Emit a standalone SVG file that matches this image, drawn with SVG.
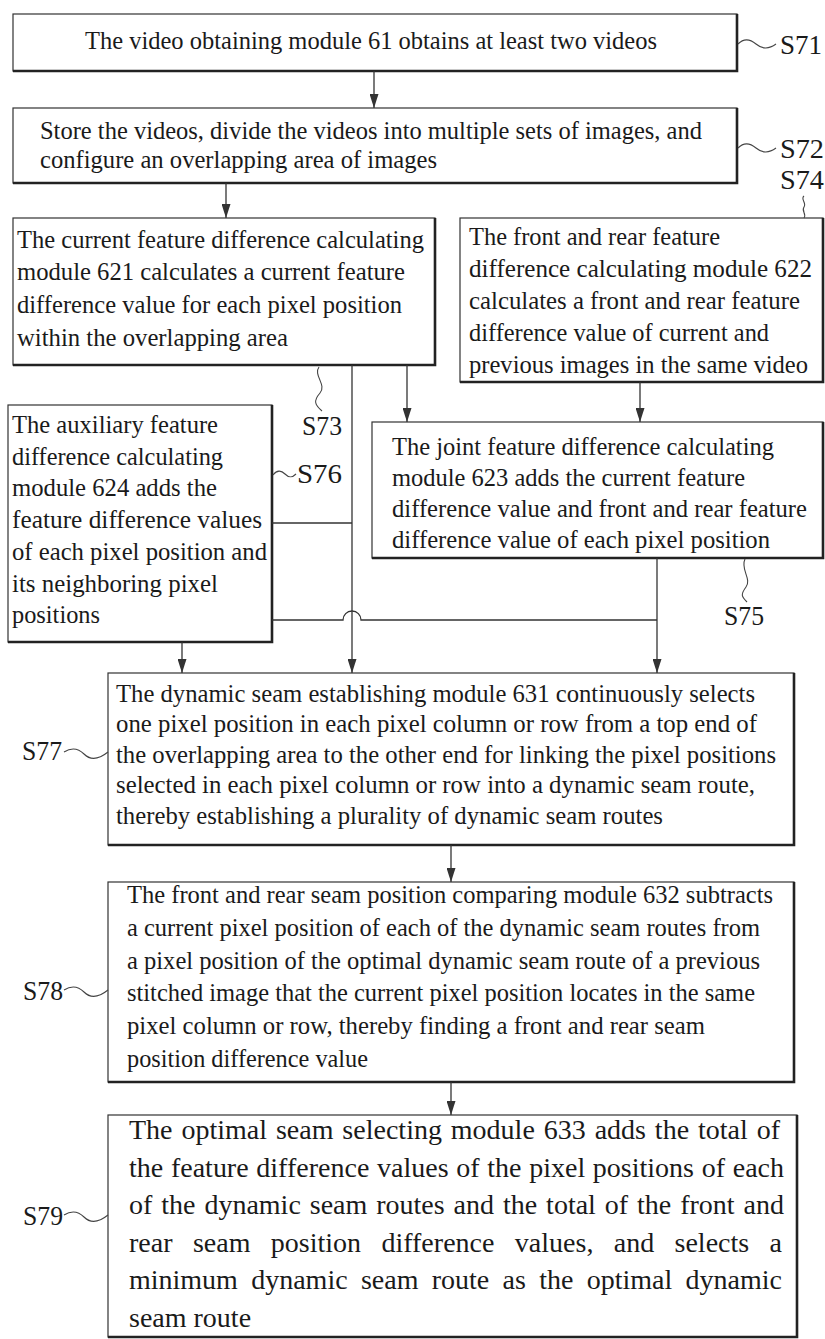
<svg xmlns="http://www.w3.org/2000/svg" width="825" height="1339" viewBox="0 0 825 1339">
<style>
.box{fill:#fff;stroke:#333;stroke-width:1.2}
.edge{fill:none;stroke:#222;stroke-width:2.6}
.t{font-family:"Liberation Serif","Times New Roman",serif;font-size:25px;fill:#1a1a1a}
.big{font-size:28px}
.lbl{font-family:"Liberation Serif","Times New Roman",serif;font-size:27px;fill:#1a1a1a}
.conn{fill:none;stroke:#333;stroke-width:1.3}
.lead{fill:none;stroke:#444;stroke-width:1.1}
</style>
<defs>
<marker id="ah" markerUnits="userSpaceOnUse" viewBox="0 0 14 9" markerWidth="14" markerHeight="9" refX="14" refY="4.5" orient="auto">
<path d="M0,0 L14,4.5 L0,9 z" fill="#333"/>
</marker>
</defs>
<rect width="825" height="1339" fill="#fff"/>

<g id="n-s71">
<rect class="box" x="13" y="14" width="724" height="57"/>
<polyline class="edge" points="13,71 737,71 737,14"/>
<text class="t" x="85" y="49" textLength="572" lengthAdjust="spacingAndGlyphs">The video obtaining module 61 obtains at least two videos</text>
</g>

<g id="n-s72">
<rect class="box" x="13" y="108" width="724" height="75"/>
<polyline class="edge" points="13,183 737,183 737,108"/>
<text class="t" x="40" y="139" textLength="662" lengthAdjust="spacingAndGlyphs">Store the videos, divide the videos into multiple sets of images, and</text>
<text class="t" x="40" y="168" textLength="397" lengthAdjust="spacingAndGlyphs">configure an overlapping area of images</text>
</g>

<g id="n-s73">
<rect class="box" x="13" y="218" width="422" height="147"/>
<polyline class="edge" points="13,365 435,365 435,218"/>
<text class="t" x="17" y="248" textLength="407" lengthAdjust="spacingAndGlyphs">The current feature difference calculating</text>
<text class="t" x="17" y="280" textLength="388" lengthAdjust="spacingAndGlyphs">module 621 calculates a current feature</text>
<text class="t" x="17" y="313" textLength="385" lengthAdjust="spacingAndGlyphs">difference value for each pixel position</text>
<text class="t" x="17" y="346" textLength="271" lengthAdjust="spacingAndGlyphs">within the overlapping area</text>
</g>

<g id="n-s74">
<rect class="box" x="460" y="218" width="363" height="164"/>
<polyline class="edge" points="460,382 823,382 823,218"/>
<text class="t" x="469" y="245" textLength="251" lengthAdjust="spacingAndGlyphs">The front and rear feature</text>
<text class="t" x="469" y="277" textLength="343" lengthAdjust="spacingAndGlyphs">difference calculating module 622</text>
<text class="t" x="469" y="309" textLength="331" lengthAdjust="spacingAndGlyphs">calculates a front and rear feature</text>
<text class="t" x="469" y="341" textLength="300" lengthAdjust="spacingAndGlyphs">difference value of current and</text>
<text class="t" x="469" y="373" textLength="339" lengthAdjust="spacingAndGlyphs">previous images in the same video</text>
</g>

<g id="n-s76">
<rect class="box" x="8" y="405" width="264" height="237"/>
<polyline class="edge" points="8,642 272,642 272,405"/>
<text class="t" x="12" y="433" textLength="206" lengthAdjust="spacingAndGlyphs">The auxiliary feature</text>
<text class="t" x="12" y="465" textLength="211" lengthAdjust="spacingAndGlyphs">difference calculating</text>
<text class="t" x="12" y="496" textLength="205" lengthAdjust="spacingAndGlyphs">module 624 adds the</text>
<text class="t" x="12" y="528" textLength="250" lengthAdjust="spacingAndGlyphs">feature difference values</text>
<text class="t" x="12" y="560" textLength="255" lengthAdjust="spacingAndGlyphs">of each pixel position and</text>
<text class="t" x="12" y="592" textLength="206" lengthAdjust="spacingAndGlyphs">its neighboring pixel</text>
<text class="t" x="12" y="623" textLength="88" lengthAdjust="spacingAndGlyphs">positions</text>
</g>

<g id="n-s75">
<rect class="box" x="372" y="422" width="451" height="136"/>
<polyline class="edge" points="372,558 823,558 823,422"/>
<text class="t" x="392" y="455" textLength="382" lengthAdjust="spacingAndGlyphs">The joint feature difference calculating</text>
<text class="t" x="392" y="486" textLength="353" lengthAdjust="spacingAndGlyphs">module 623 adds the current feature</text>
<text class="t" x="392" y="517" textLength="415" lengthAdjust="spacingAndGlyphs">difference value and front and rear feature</text>
<text class="t" x="392" y="548" textLength="378" lengthAdjust="spacingAndGlyphs">difference value of each pixel position</text>
</g>

<g id="n-s77">
<rect class="box" x="108" y="673" width="686" height="172"/>
<polyline class="edge" points="108,845 794,845 794,673"/>
<text class="t" x="116" y="702" textLength="639" lengthAdjust="spacingAndGlyphs">The dynamic seam establishing module 631 continuously selects</text>
<text class="t" x="116" y="732" textLength="641" lengthAdjust="spacingAndGlyphs">one pixel position in each pixel column or row from a top end of</text>
<text class="t" x="116" y="763" textLength="660" lengthAdjust="spacingAndGlyphs">the overlapping area to the other end for linking the pixel positions</text>
<text class="t" x="116" y="793" textLength="639" lengthAdjust="spacingAndGlyphs">selected in each pixel column or row into a dynamic seam route,</text>
<text class="t" x="116" y="824" textLength="547" lengthAdjust="spacingAndGlyphs">thereby establishing a plurality of dynamic seam routes</text>
</g>

<g id="n-s78">
<rect class="box" x="108" y="882" width="686" height="200"/>
<polyline class="edge" points="108,1082 794,1082 794,882"/>
<text class="t" x="127" y="903" textLength="646" lengthAdjust="spacingAndGlyphs">The front and rear seam position comparing module 632 subtracts</text>
<text class="t" x="127" y="936" textLength="633" lengthAdjust="spacingAndGlyphs">a current pixel position of each of the dynamic seam routes from</text>
<text class="t" x="127" y="969" textLength="633" lengthAdjust="spacingAndGlyphs">a pixel position of the optimal dynamic seam route of a previous</text>
<text class="t" x="127" y="1001" textLength="628" lengthAdjust="spacingAndGlyphs">stitched image that the current pixel position locates in the same</text>
<text class="t" x="127" y="1034" textLength="578" lengthAdjust="spacingAndGlyphs">pixel column or row, thereby finding a front and rear seam</text>
<text class="t" x="127" y="1067" textLength="241" lengthAdjust="spacingAndGlyphs">position difference value</text>
</g>

<g id="n-s79">
<rect class="box" x="108" y="1115" width="689" height="222"/>
<polyline class="edge" points="108,1337 797,1337 797,1115"/>
<text class="t big" x="129" y="1139" word-spacing="1.9" textLength="651" lengthAdjust="spacing">The optimal seam selecting module 633 adds the total of</text>
<text class="t big" x="129" y="1177" word-spacing="0.7" textLength="655" lengthAdjust="spacing">the feature difference values of the pixel positions of each</text>
<text class="t big" x="129" y="1214" word-spacing="1.9" textLength="655" lengthAdjust="spacing">of the dynamic seam routes and the total of the front and</text>
<text class="t big" x="129" y="1252" word-spacing="13.3" textLength="653" lengthAdjust="spacing">rear seam position difference values, and selects a</text>
<text class="t big" x="129" y="1289" word-spacing="6.3" textLength="653" lengthAdjust="spacing">minimum dynamic seam route as the optimal dynamic</text>
<text class="t big" x="129" y="1327">seam route</text>
</g>

<g id="connectors">
<path class="conn" d="M374,71 V108" marker-end="url(#ah)"/>
<path class="conn" d="M226,183 V218" marker-end="url(#ah)"/>
<path class="conn" d="M352,365 V673" marker-end="url(#ah)"/>
<path class="conn" d="M407,365 V422" marker-end="url(#ah)"/>
<path class="conn" d="M640,382 V422" marker-end="url(#ah)"/>
<path class="conn" d="M272,523 H352"/>
<path class="conn" d="M272,620 H343 A9,9 0 0 1 361,620 H657"/>
<path class="conn" d="M657,558 V673" marker-end="url(#ah)"/>
<path class="conn" d="M182,642 V673" marker-end="url(#ah)"/>
<path class="conn" d="M451,845 V882" marker-end="url(#ah)"/>
<path class="conn" d="M451,1082 V1115" marker-end="url(#ah)"/>
</g>

<g id="labels">
<path class="lead" d="M738,44 c6,-6 12,-5 18,0 s12,6 20,0"/>
<text class="lbl" x="780" y="54" textLength="42" lengthAdjust="spacingAndGlyphs">S71</text>
<path class="lead" d="M738,148 c6,-6 12,-5 18,0 s12,6 20,0"/>
<text class="lbl" x="780" y="158" textLength="44" lengthAdjust="spacingAndGlyphs">S72</text>
<text class="lbl" x="780" y="189" textLength="44" lengthAdjust="spacingAndGlyphs">S74</text>
<path class="lead" d="M804,196 c-4,3 3,7 0,11 s3,7 0,11"/>
<path class="lead" d="M319,367 C313,375 327,385 320,393 S315,405 322,411"/>
<text class="lbl" x="302" y="435" textLength="40" lengthAdjust="spacingAndGlyphs">S73</text>
<path class="lead" d="M273,475 c4,-5 8,-5 12,-1 s7,4 11,0"/>
<text class="lbl" x="297" y="483" textLength="45" lengthAdjust="spacingAndGlyphs">S76</text>
<path class="lead" d="M745,559 C740,569 752,579 746,587 S742,597 747,602"/>
<text class="lbl" x="724" y="625" textLength="40" lengthAdjust="spacingAndGlyphs">S75</text>
<text class="lbl" x="22" y="760" textLength="40" lengthAdjust="spacingAndGlyphs">S77</text>
<path class="lead" d="M64,752 c8,-5 14,-4 20,2 s14,6 24,-2"/>
<text class="lbl" x="23" y="1000" textLength="40" lengthAdjust="spacingAndGlyphs">S78</text>
<path class="lead" d="M64,990 c8,-5 14,-4 20,2 s14,6 24,-2"/>
<text class="lbl" x="23" y="1225" textLength="40" lengthAdjust="spacingAndGlyphs">S79</text>
<path class="lead" d="M64,1215 c8,-5 14,-4 20,2 s14,6 24,-2"/>
</g>
</svg>
